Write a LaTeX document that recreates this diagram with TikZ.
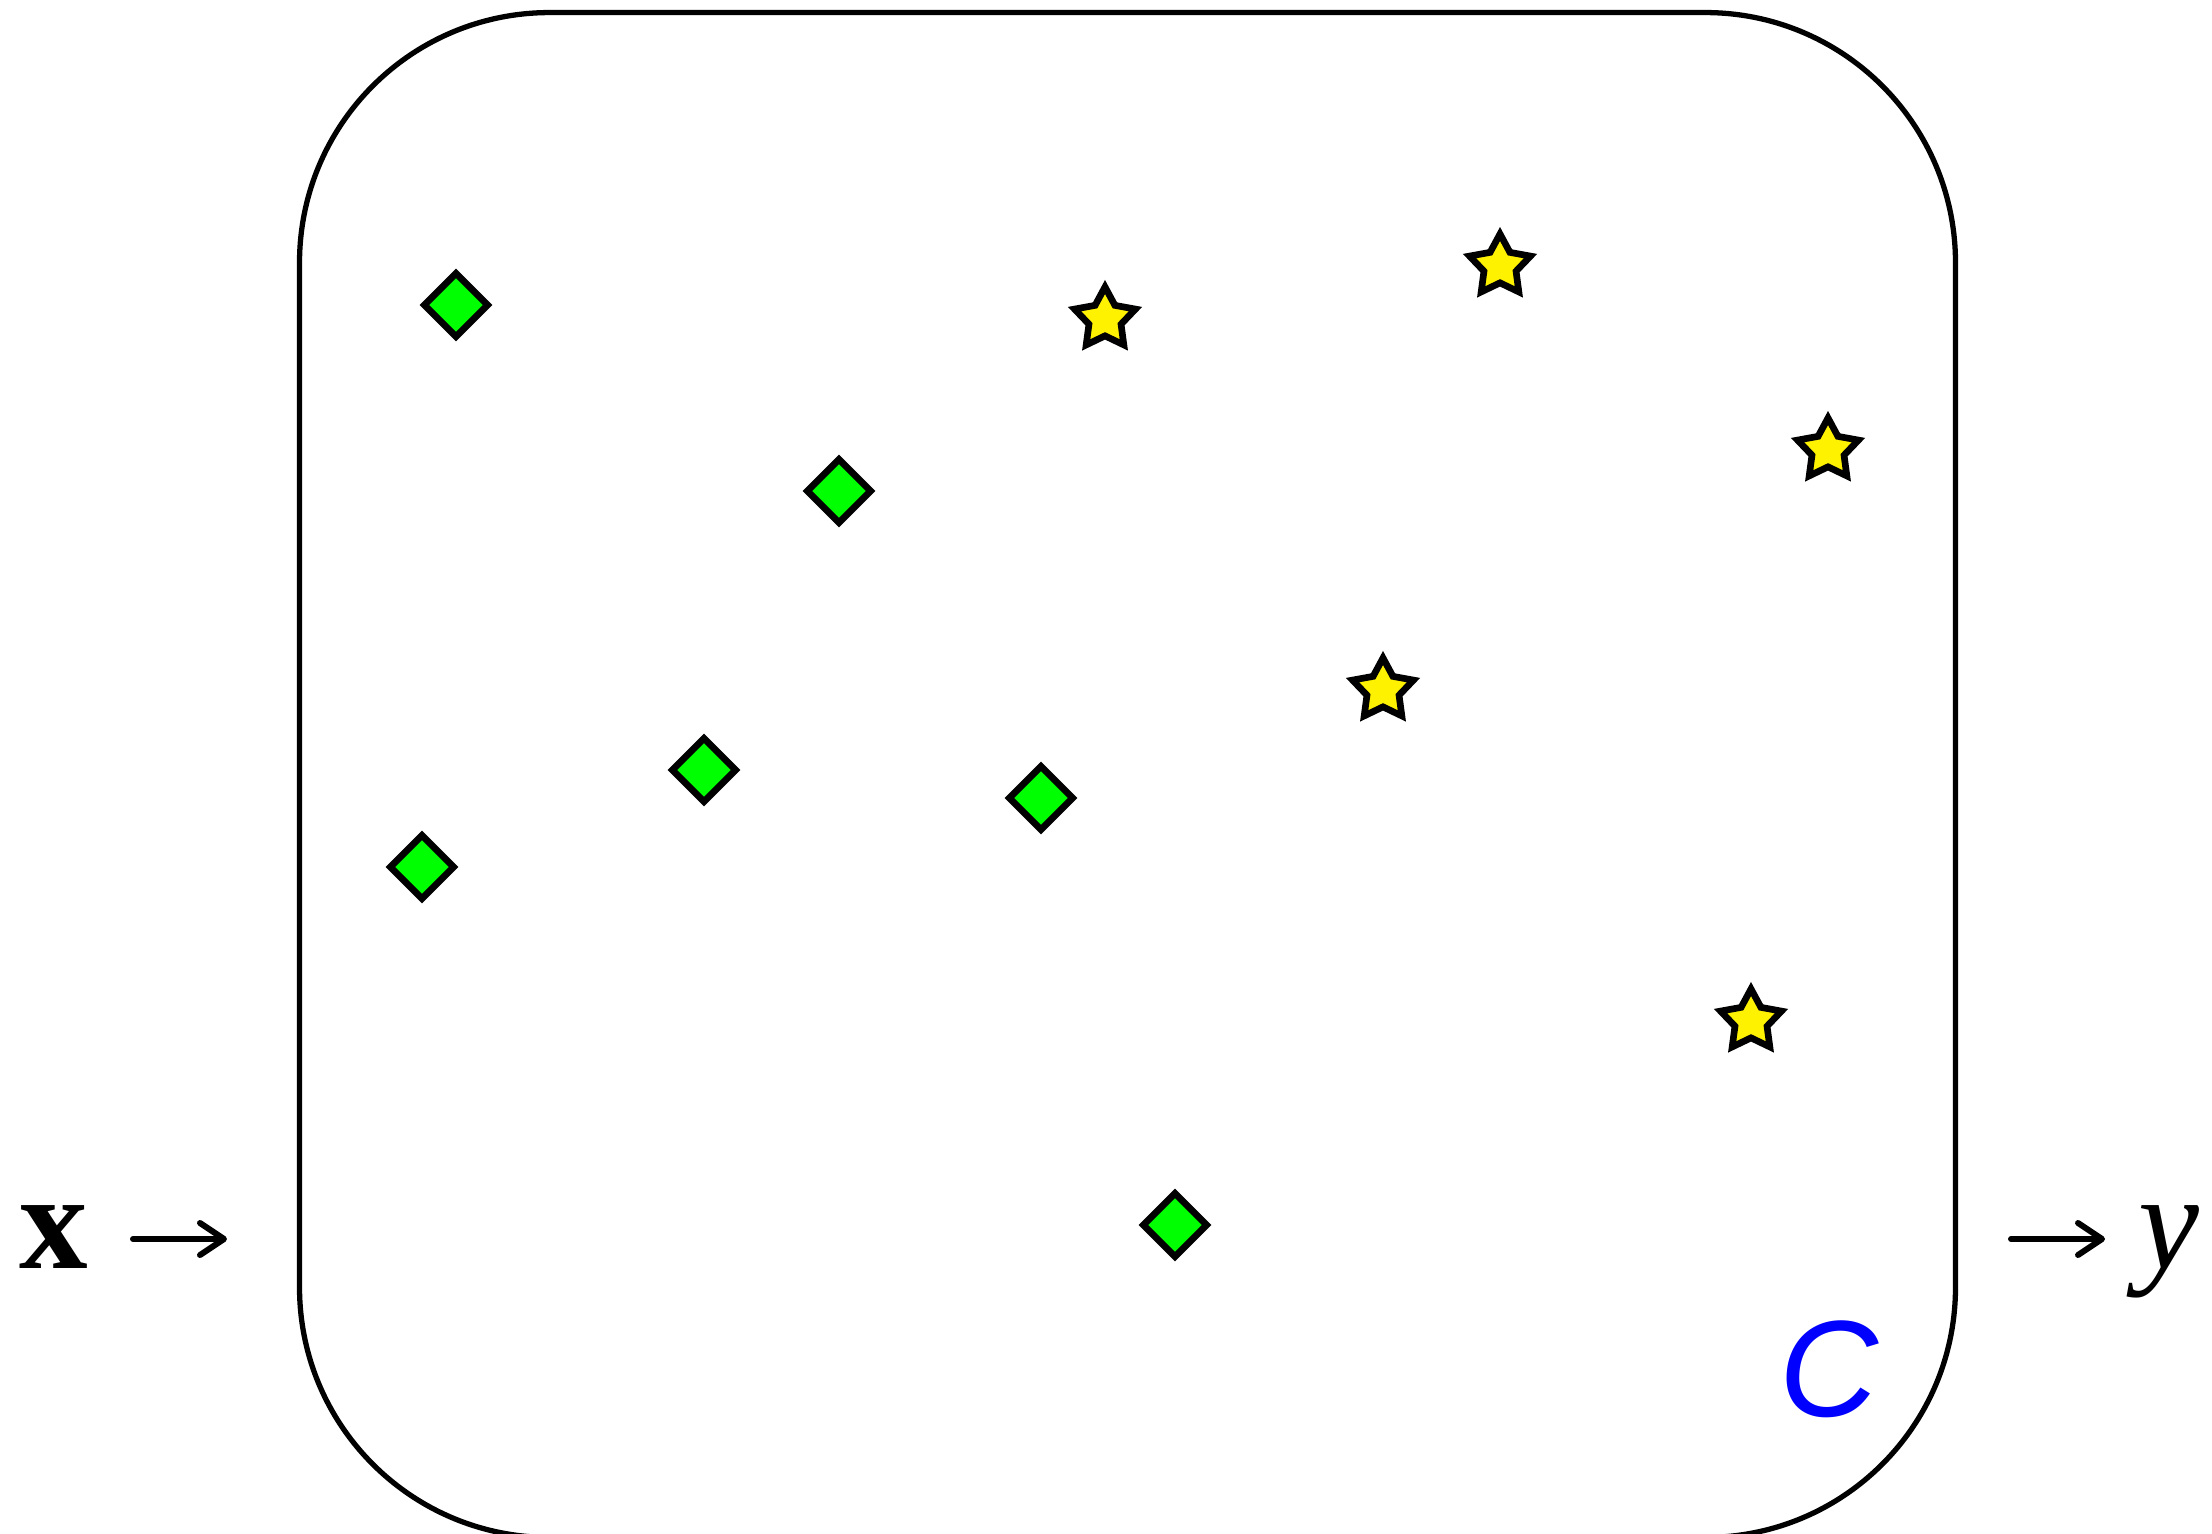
\documentclass[tikz,border=0pt]{standalone}
\usepackage{fontspec}
\newfontfamily\timesf{Liberation Serif}
\newfontfamily\helvf{Liberation Sans}
\usetikzlibrary{shapes.geometric,arrows.meta}
\tikzset{
  gem/.style={diamond, draw=black, fill=green, line width=1.9pt, inner sep=0pt, minimum width=0.66cm, minimum height=0.66cm},
  starry/.style={star, star points=5, star point ratio=1.9, draw=black, fill=yellow, line width=1.9pt, inner sep=0pt, minimum size=0.64cm},
  lbl/.style={inner sep=0pt, font=\fontsize{39}{42}\selectfont\timesf},
  flow/.style={line width=1.7pt, line cap=round, -{Straight Barb[length=0.24cm, width=0.32cm, round]}},
  frame/.style={draw=black, line width=1.5pt, rounded corners=2.5cm, inner sep=0pt, minimum width=16.55cm, minimum height=15.24cm}
}
\begin{document}
\begin{tikzpicture}[x=0.01cm, y=-0.01cm]
\useasboundingbox (0,0) rectangle (2212,1533);
\node[frame] (box) at (1127.5,775) {};
% diamonds
\node[gem] (d1) at (456,305) {};
\node[gem] (d2) at (839,491) {};
\node[gem] (d3) at (704,770) {};
\node[gem] (d4) at (422,867) {};
\node[gem] (d5) at (1041,798) {};
\node[gem] (d6) at (1175,1225) {};
% stars
\node[starry] (s1) at (1105,319) {};
\node[starry] (s2) at (1500,266) {};
\node[starry] (s3) at (1828,450) {};
\node[starry] (s4) at (1383,690) {};
\node[starry] (s5) at (1751,1021) {};
% labels
\node[lbl, anchor=base] (xl) at (54,1268) {\bfseries x};
\coordinate (a1s) at (133,1239);
\coordinate (a1e) at (227,1239);
\coordinate (a2s) at (2011,1239);
\coordinate (a2e) at (2105,1239);
\draw[flow] (a1s) -- (a1e);
\draw[flow] (a2s) -- (a2e);
\node[lbl, anchor=base] (yl) at (2169,1268) {\itshape y};
\node[inner sep=0pt, text=blue, font=\fontsize{39}{42}\selectfont\helvf\itshape] (cl) at (1829,1369) {C};
\end{tikzpicture}
\end{document}
